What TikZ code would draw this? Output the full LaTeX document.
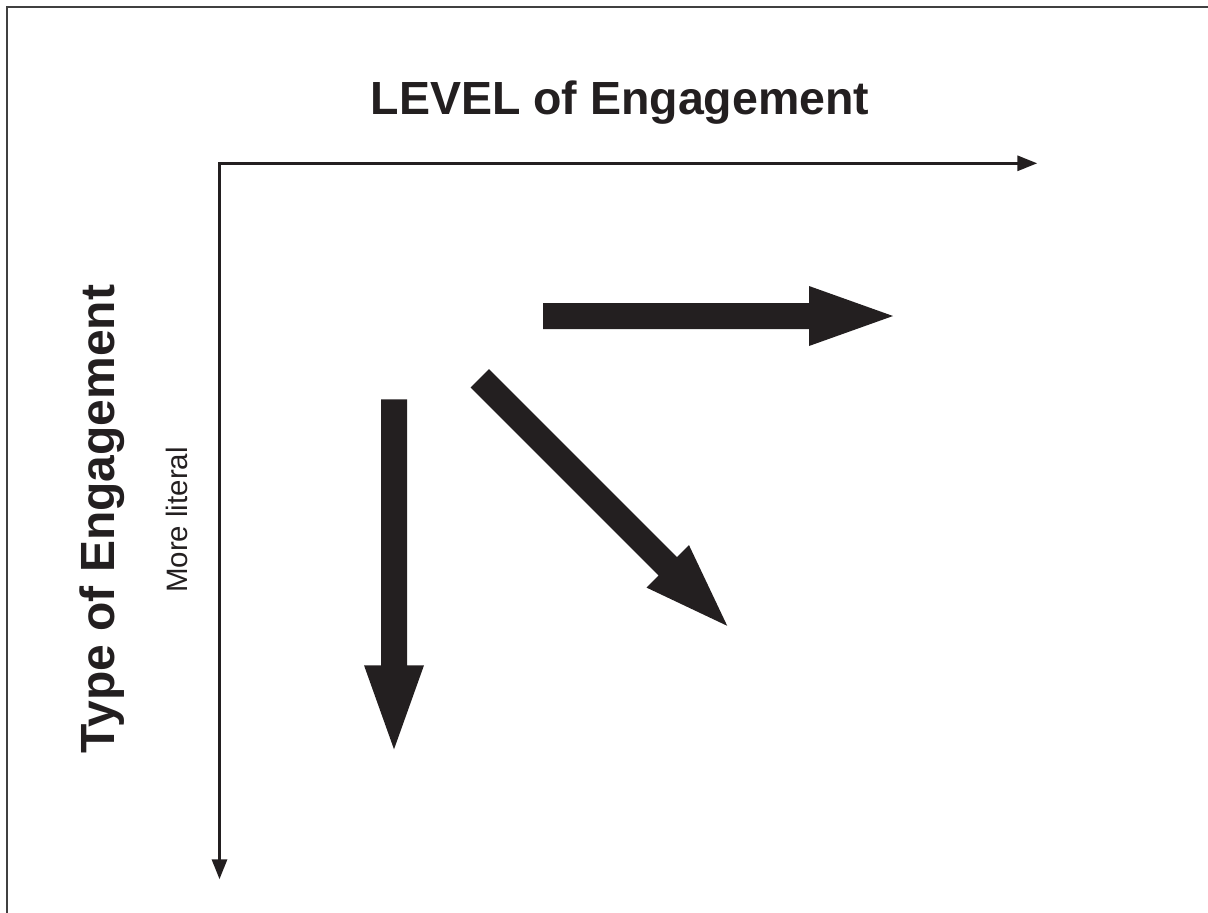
\documentclass[tikz,border=0pt]{standalone}
\usepackage{fontspec}
\setmainfont{Liberation Sans}
\usetikzlibrary{arrows.meta}
\definecolor{ink}{HTML}{231F20}
\tikzset{
  arrowfill/.style={fill=ink},
  axisline/.style={draw=ink, line width=3pt, line join=miter},
  framerule/.style={draw=black!75, line width=2pt},
  fatarrow/.pic={\fill[arrowfill] (0,-13) -- (266,-13) -- (266,-30) -- (350,0) -- (266,30) -- (266,13) -- (0,13) -- cycle;},
  bigtitle/.style={text=ink, inner sep=0pt, font=\fontsize{46.5}{50}\selectfont\bfseries},
  sidetitle/.style={text=ink, inner sep=0pt, font=\fontsize{48}{52}\selectfont\bfseries},
  sidelabel/.style={text=ink, inner sep=0pt, font=\fontsize{29.5}{32}\selectfont}
}
\begin{document}
\begin{tikzpicture}[x=1pt,y=-1pt]
\useasboundingbox (0,0) rectangle (1208,913);
% frame (top and left edges)
\draw[framerule] (7.3,913) -- (7.3,7.3) -- (1208,7.3);
% axes
\coordinate (origin) at (219.5,163.3);
\coordinate (xend) at (1037.3,163.3);
\coordinate (yend) at (219.5,879.3);
\draw[axisline, -{Triangle[length=20pt,width=15pt]}] (origin) -- (xend);
\draw[axisline, -{Triangle[length=20pt,width=15pt]}] (origin) -- (yend);
\fill[ink] (218,161.8) rectangle (221,164.8);
% labels
\node[bigtitle, anchor=base] (title) at (620,114) {LEVEL of Engagement};
\node[sidetitle, rotate=90, anchor=base] (ytitle) at (114,519) {Type of Engagement};
\node[sidelabel, rotate=90, anchor=base] (ylabel) at (187,520) {More literal};
% fat arrows
\pic[rotate=0] (right) at (543,316) {fatarrow};
\pic[rotate=-45] (diag) at (479.7,378.3) {fatarrow};
\pic[rotate=-90] (down) at (394,399.3) {fatarrow};
\end{tikzpicture}
\end{document}
